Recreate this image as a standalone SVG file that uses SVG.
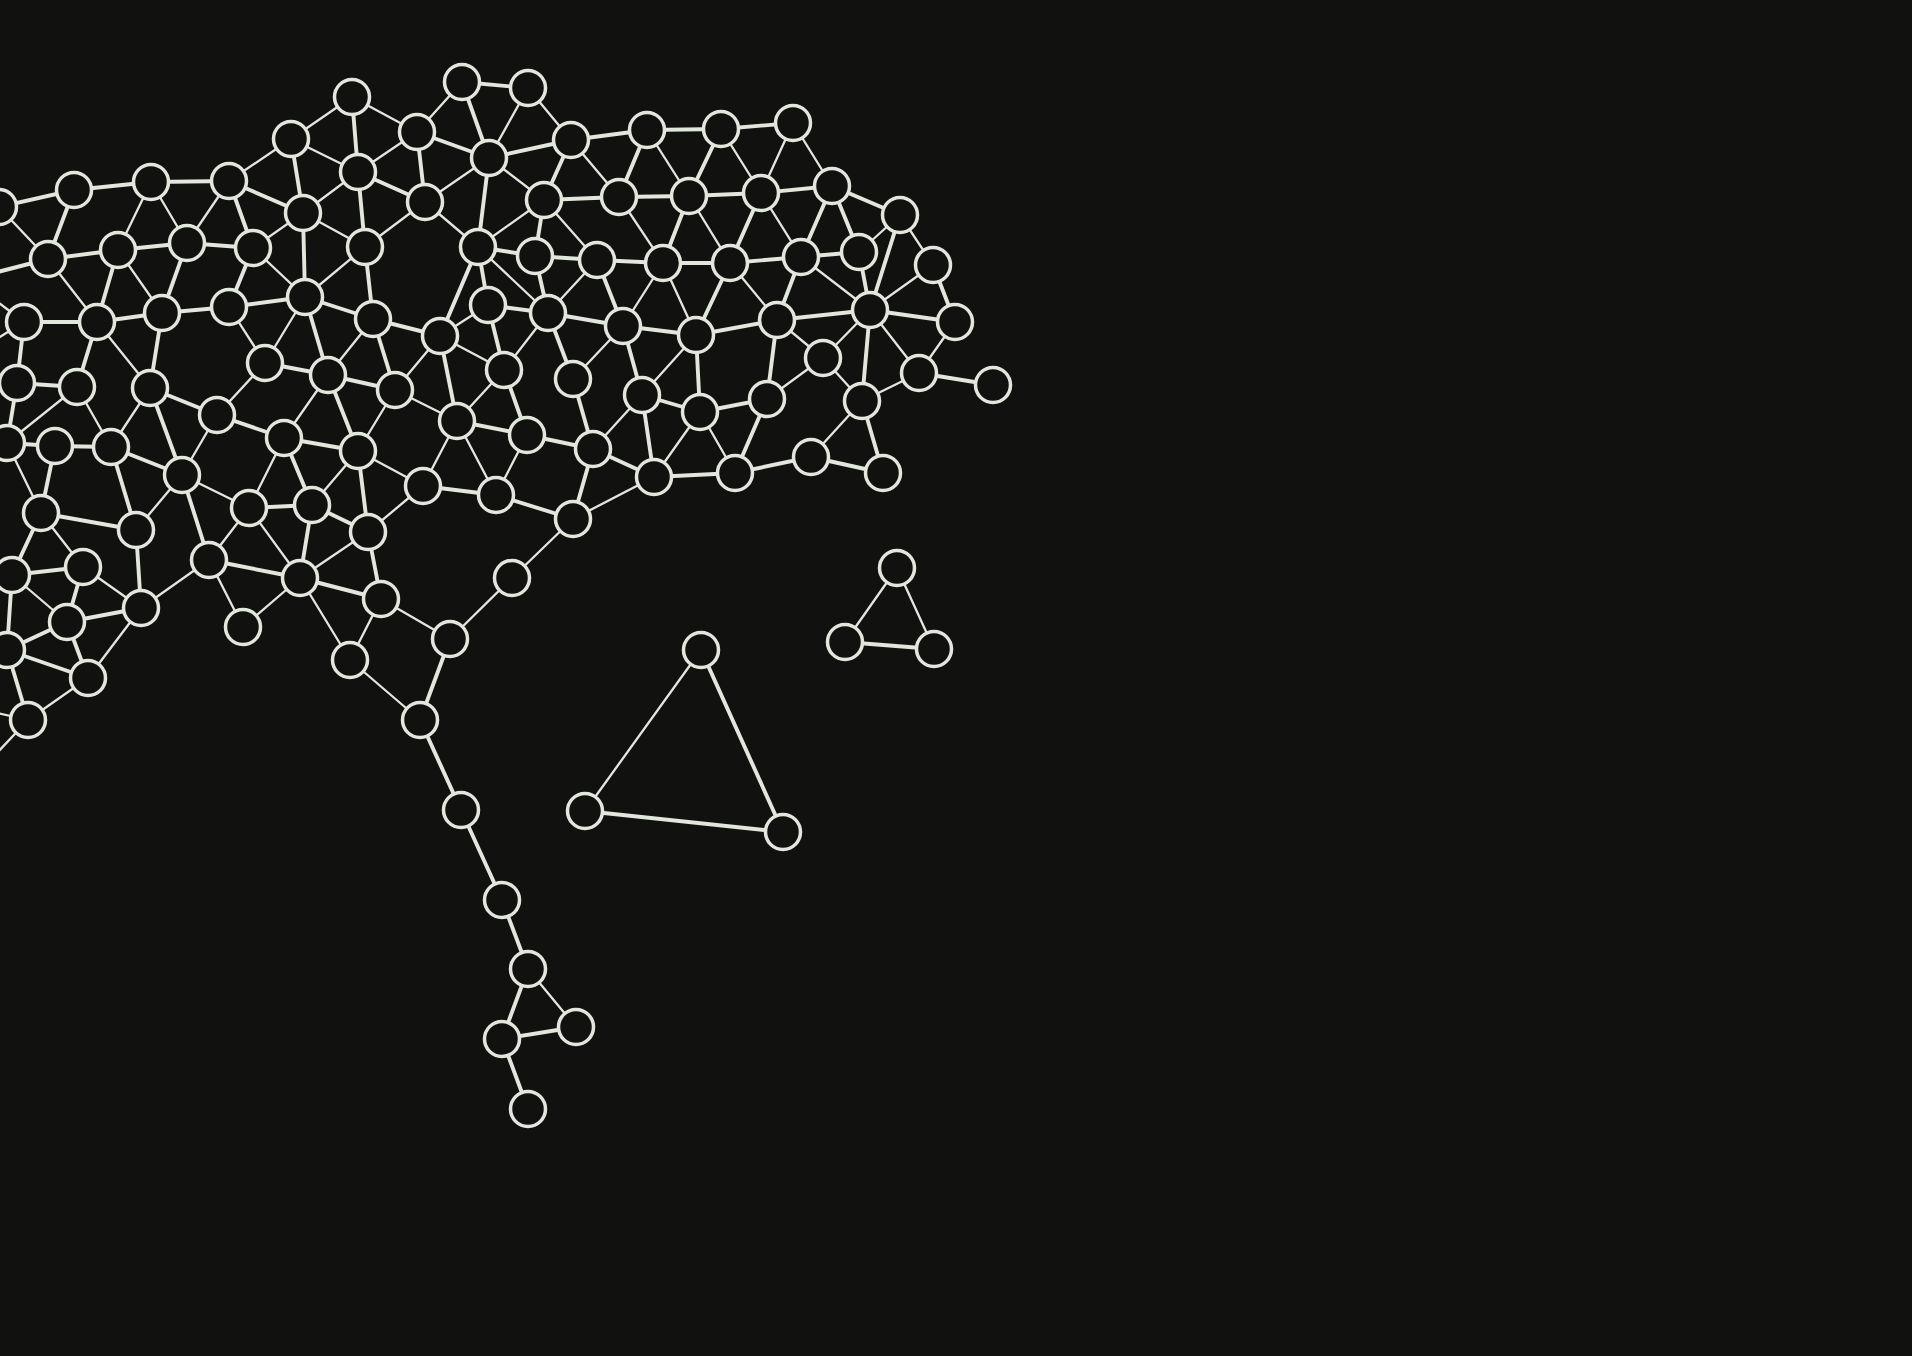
<svg xmlns="http://www.w3.org/2000/svg" width="1912" height="1356" viewBox="0 0 1912 1356">
<style>
.bg{fill:#111210}
#connectors line{stroke:#e2e6dc;stroke-linecap:round}
#connectors .t{stroke-width:3.9}
#connectors .n{stroke-width:2.3}
.node circle{fill:#111210;stroke:#e2e6dc;stroke-width:3.5}
</style>
<rect class="bg" x="0" y="0" width="1912" height="1356"/>
<g id="connectors">
<line class="t" x1="-1" y1="207" x2="74" y2="190"/>
<line class="t" x1="74" y1="190" x2="151" y2="182"/>
<line class="t" x1="151" y1="182" x2="229" y2="181"/>
<line class="n" x1="229" y1="181" x2="291" y2="139"/>
<line class="n" x1="291" y1="139" x2="352" y2="97"/>
<line class="t" x1="352" y1="97" x2="358" y2="172"/>
<line class="n" x1="291" y1="139" x2="358" y2="172"/>
<line class="t" x1="291" y1="139" x2="303" y2="213"/>
<line class="t" x1="229" y1="181" x2="303" y2="213"/>
<line class="n" x1="358" y1="172" x2="303" y2="213"/>
<line class="n" x1="-1" y1="207" x2="48" y2="259"/>
<line class="t" x1="74" y1="190" x2="48" y2="259"/>
<line class="n" x1="151" y1="182" x2="118" y2="250"/>
<line class="n" x1="151" y1="182" x2="187" y2="243"/>
<line class="n" x1="229" y1="181" x2="187" y2="243"/>
<line class="t" x1="229" y1="181" x2="253" y2="248"/>
<line class="t" x1="48" y1="259" x2="118" y2="250"/>
<line class="t" x1="118" y1="250" x2="187" y2="243"/>
<line class="t" x1="187" y1="243" x2="253" y2="248"/>
<line class="n" x1="303" y1="213" x2="253" y2="248"/>
<line class="t" x1="303" y1="213" x2="305" y2="297"/>
<line class="n" x1="303" y1="213" x2="365" y2="247"/>
<line class="n" x1="253" y1="248" x2="305" y2="297"/>
<line class="t" x1="253" y1="248" x2="229" y2="307"/>
<line class="t" x1="187" y1="243" x2="162" y2="313"/>
<line class="t" x1="118" y1="250" x2="97" y2="322"/>
<line class="n" x1="118" y1="250" x2="162" y2="313"/>
<line class="n" x1="48" y1="259" x2="97" y2="322"/>
<line class="t" x1="48" y1="259" x2="-80" y2="292"/>
<line class="t" x1="24" y1="322" x2="97" y2="322"/>
<line class="t" x1="97" y1="322" x2="162" y2="313"/>
<line class="t" x1="162" y1="313" x2="229" y2="307"/>
<line class="t" x1="229" y1="307" x2="305" y2="297"/>
<line class="n" x1="305" y1="297" x2="365" y2="247"/>
<line class="t" x1="305" y1="297" x2="373" y2="319"/>
<line class="n" x1="305" y1="297" x2="265" y2="363"/>
<line class="t" x1="305" y1="297" x2="328" y2="375"/>
<line class="n" x1="229" y1="307" x2="265" y2="363"/>
<line class="n" x1="328" y1="375" x2="373" y2="319"/>
<line class="t" x1="265" y1="363" x2="328" y2="375"/>
<line class="t" x1="162" y1="313" x2="150" y2="388"/>
<line class="t" x1="97" y1="322" x2="77" y2="387"/>
<line class="n" x1="97" y1="322" x2="150" y2="388"/>
<line class="t" x1="24" y1="322" x2="17" y2="383"/>
<line class="n" x1="24" y1="322" x2="-60" y2="258"/>
<line class="n" x1="24" y1="322" x2="-60" y2="374"/>
<line class="n" x1="352" y1="97" x2="417" y2="132"/>
<line class="n" x1="462" y1="82" x2="417" y2="132"/>
<line class="t" x1="462" y1="82" x2="528" y2="88"/>
<line class="t" x1="462" y1="82" x2="489" y2="158"/>
<line class="n" x1="528" y1="88" x2="489" y2="158"/>
<line class="n" x1="528" y1="88" x2="571" y2="140"/>
<line class="t" x1="417" y1="132" x2="489" y2="158"/>
<line class="n" x1="417" y1="132" x2="358" y2="172"/>
<line class="t" x1="417" y1="132" x2="425" y2="202"/>
<line class="t" x1="489" y1="158" x2="571" y2="140"/>
<line class="n" x1="489" y1="158" x2="425" y2="202"/>
<line class="t" x1="489" y1="158" x2="478" y2="247"/>
<line class="n" x1="489" y1="158" x2="544" y2="200"/>
<line class="t" x1="571" y1="140" x2="647" y2="130"/>
<line class="t" x1="571" y1="140" x2="544" y2="200"/>
<line class="n" x1="571" y1="140" x2="619" y2="197"/>
<line class="t" x1="647" y1="130" x2="721" y2="129"/>
<line class="t" x1="647" y1="130" x2="619" y2="197"/>
<line class="n" x1="647" y1="130" x2="689" y2="196"/>
<line class="t" x1="358" y1="172" x2="425" y2="202"/>
<line class="t" x1="358" y1="172" x2="365" y2="247"/>
<line class="n" x1="425" y1="202" x2="365" y2="247"/>
<line class="n" x1="425" y1="202" x2="478" y2="247"/>
<line class="t" x1="544" y1="200" x2="619" y2="197"/>
<line class="t" x1="619" y1="197" x2="689" y2="196"/>
<line class="n" x1="544" y1="200" x2="478" y2="247"/>
<line class="t" x1="544" y1="200" x2="535" y2="256"/>
<line class="n" x1="544" y1="200" x2="597" y2="260"/>
<line class="n" x1="619" y1="197" x2="663" y2="263"/>
<line class="t" x1="689" y1="196" x2="663" y2="263"/>
<line class="t" x1="478" y1="247" x2="535" y2="256"/>
<line class="t" x1="535" y1="256" x2="597" y2="260"/>
<line class="t" x1="597" y1="260" x2="663" y2="263"/>
<line class="t" x1="663" y1="263" x2="730" y2="263"/>
<line class="t" x1="365" y1="247" x2="373" y2="319"/>
<line class="t" x1="478" y1="247" x2="440" y2="336"/>
<line class="t" x1="478" y1="247" x2="488" y2="305"/>
<line class="n" x1="478" y1="247" x2="548" y2="313"/>
<line class="t" x1="535" y1="256" x2="548" y2="313"/>
<line class="n" x1="597" y1="260" x2="548" y2="313"/>
<line class="t" x1="597" y1="260" x2="623" y2="326"/>
<line class="n" x1="663" y1="263" x2="623" y2="326"/>
<line class="n" x1="663" y1="263" x2="696" y2="335"/>
<line class="t" x1="623" y1="326" x2="696" y2="335"/>
<line class="t" x1="548" y1="313" x2="623" y2="326"/>
<line class="t" x1="488" y1="305" x2="548" y2="313"/>
<line class="n" x1="440" y1="336" x2="488" y2="305"/>
<line class="t" x1="373" y1="319" x2="440" y2="336"/>
<line class="t" x1="373" y1="319" x2="395" y2="390"/>
<line class="n" x1="440" y1="336" x2="395" y2="390"/>
<line class="n" x1="440" y1="336" x2="504" y2="370"/>
<line class="t" x1="440" y1="336" x2="457" y2="421"/>
<line class="t" x1="488" y1="305" x2="504" y2="370"/>
<line class="n" x1="548" y1="313" x2="504" y2="370"/>
<line class="t" x1="548" y1="313" x2="573" y2="379"/>
<line class="n" x1="623" y1="326" x2="573" y2="379"/>
<line class="t" x1="623" y1="326" x2="642" y2="395"/>
<line class="n" x1="696" y1="335" x2="642" y2="395"/>
<line class="t" x1="721" y1="129" x2="793" y2="123"/>
<line class="t" x1="721" y1="129" x2="689" y2="196"/>
<line class="n" x1="721" y1="129" x2="761" y2="193"/>
<line class="n" x1="793" y1="123" x2="761" y2="193"/>
<line class="n" x1="793" y1="123" x2="832" y2="186"/>
<line class="t" x1="689" y1="196" x2="761" y2="193"/>
<line class="t" x1="761" y1="193" x2="832" y2="186"/>
<line class="n" x1="689" y1="196" x2="730" y2="263"/>
<line class="t" x1="761" y1="193" x2="730" y2="263"/>
<line class="n" x1="761" y1="193" x2="801" y2="257"/>
<line class="t" x1="832" y1="186" x2="801" y2="257"/>
<line class="t" x1="832" y1="186" x2="900" y2="215"/>
<line class="t" x1="832" y1="186" x2="859" y2="252"/>
<line class="n" x1="900" y1="215" x2="859" y2="252"/>
<line class="t" x1="900" y1="215" x2="870" y2="310"/>
<line class="n" x1="900" y1="215" x2="933" y2="265"/>
<line class="t" x1="730" y1="263" x2="801" y2="257"/>
<line class="t" x1="801" y1="257" x2="859" y2="252"/>
<line class="t" x1="859" y1="252" x2="870" y2="310"/>
<line class="n" x1="801" y1="257" x2="870" y2="310"/>
<line class="n" x1="933" y1="265" x2="870" y2="310"/>
<line class="t" x1="933" y1="265" x2="955" y2="322"/>
<line class="t" x1="870" y1="310" x2="955" y2="322"/>
<line class="t" x1="730" y1="263" x2="696" y2="335"/>
<line class="n" x1="730" y1="263" x2="777" y2="320"/>
<line class="t" x1="801" y1="257" x2="777" y2="320"/>
<line class="t" x1="696" y1="335" x2="777" y2="320"/>
<line class="t" x1="777" y1="320" x2="870" y2="310"/>
<line class="n" x1="777" y1="320" x2="823" y2="358"/>
<line class="n" x1="870" y1="310" x2="823" y2="358"/>
<line class="t" x1="870" y1="310" x2="862" y2="401"/>
<line class="n" x1="870" y1="310" x2="919" y2="373"/>
<line class="n" x1="955" y1="322" x2="919" y2="373"/>
<line class="t" x1="919" y1="373" x2="993" y2="385"/>
<line class="t" x1="777" y1="320" x2="767" y2="399"/>
<line class="n" x1="823" y1="358" x2="767" y2="399"/>
<line class="n" x1="823" y1="358" x2="862" y2="401"/>
<line class="n" x1="862" y1="401" x2="919" y2="373"/>
<line class="t" x1="696" y1="335" x2="700" y2="412"/>
<line class="t" x1="700" y1="412" x2="767" y2="399"/>
<line class="n" x1="700" y1="412" x2="735" y2="473"/>
<line class="t" x1="767" y1="399" x2="735" y2="473"/>
<line class="t" x1="735" y1="473" x2="811" y2="457"/>
<line class="n" x1="811" y1="457" x2="862" y2="401"/>
<line class="t" x1="862" y1="401" x2="883" y2="473"/>
<line class="t" x1="811" y1="457" x2="883" y2="473"/>
<line class="t" x1="654" y1="477" x2="735" y2="473"/>
<line class="n" x1="700" y1="412" x2="654" y2="477"/>
<line class="n" x1="897" y1="568" x2="845" y2="642"/>
<line class="n" x1="897" y1="568" x2="934" y2="649"/>
<line class="t" x1="845" y1="642" x2="934" y2="649"/>
<line class="n" x1="701" y1="650" x2="585" y2="811"/>
<line class="t" x1="701" y1="650" x2="783" y2="832"/>
<line class="t" x1="585" y1="811" x2="783" y2="832"/>
<line class="t" x1="17" y1="383" x2="77" y2="387"/>
<line class="t" x1="17" y1="383" x2="7" y2="443"/>
<line class="n" x1="77" y1="387" x2="7" y2="443"/>
<line class="n" x1="77" y1="387" x2="111" y2="447"/>
<line class="n" x1="150" y1="388" x2="111" y2="447"/>
<line class="t" x1="150" y1="388" x2="217" y2="415"/>
<line class="t" x1="150" y1="388" x2="182" y2="475"/>
<line class="n" x1="265" y1="363" x2="217" y2="415"/>
<line class="n" x1="328" y1="375" x2="284" y2="438"/>
<line class="t" x1="328" y1="375" x2="358" y2="451"/>
<line class="t" x1="328" y1="375" x2="395" y2="390"/>
<line class="n" x1="217" y1="415" x2="182" y2="475"/>
<line class="t" x1="217" y1="415" x2="284" y2="438"/>
<line class="t" x1="7" y1="443" x2="55" y2="446"/>
<line class="t" x1="55" y1="446" x2="111" y2="447"/>
<line class="n" x1="7" y1="443" x2="41" y2="513"/>
<line class="t" x1="55" y1="446" x2="41" y2="513"/>
<line class="t" x1="111" y1="447" x2="182" y2="475"/>
<line class="t" x1="111" y1="447" x2="136" y2="530"/>
<line class="n" x1="182" y1="475" x2="136" y2="530"/>
<line class="n" x1="182" y1="475" x2="249" y2="508"/>
<line class="t" x1="182" y1="475" x2="209" y2="560"/>
<line class="n" x1="284" y1="438" x2="249" y2="508"/>
<line class="t" x1="284" y1="438" x2="312" y2="505"/>
<line class="t" x1="284" y1="438" x2="358" y2="451"/>
<line class="n" x1="358" y1="451" x2="312" y2="505"/>
<line class="t" x1="249" y1="508" x2="312" y2="505"/>
<line class="n" x1="249" y1="508" x2="209" y2="560"/>
<line class="n" x1="249" y1="508" x2="300" y2="578"/>
<line class="t" x1="312" y1="505" x2="300" y2="578"/>
<line class="t" x1="312" y1="505" x2="368" y2="532"/>
<line class="n" x1="368" y1="532" x2="300" y2="578"/>
<line class="t" x1="300" y1="578" x2="381" y2="599"/>
<line class="t" x1="41" y1="513" x2="136" y2="530"/>
<line class="t" x1="41" y1="513" x2="12" y2="575"/>
<line class="n" x1="41" y1="513" x2="83" y2="567"/>
<line class="t" x1="136" y1="530" x2="141" y2="608"/>
<line class="t" x1="12" y1="575" x2="83" y2="567"/>
<line class="n" x1="12" y1="575" x2="67" y2="622"/>
<line class="t" x1="12" y1="575" x2="7" y2="650"/>
<line class="t" x1="83" y1="567" x2="67" y2="622"/>
<line class="n" x1="83" y1="567" x2="141" y2="608"/>
<line class="t" x1="67" y1="622" x2="141" y2="608"/>
<line class="t" x1="67" y1="622" x2="7" y2="650"/>
<line class="t" x1="67" y1="622" x2="88" y2="678"/>
<line class="t" x1="7" y1="650" x2="88" y2="678"/>
<line class="n" x1="141" y1="608" x2="88" y2="678"/>
<line class="n" x1="141" y1="608" x2="209" y2="560"/>
<line class="t" x1="209" y1="560" x2="300" y2="578"/>
<line class="n" x1="209" y1="560" x2="243" y2="627"/>
<line class="n" x1="300" y1="578" x2="243" y2="627"/>
<line class="n" x1="300" y1="578" x2="350" y2="660"/>
<line class="t" x1="7" y1="650" x2="28" y2="720"/>
<line class="n" x1="88" y1="678" x2="28" y2="720"/>
<line class="n" x1="28" y1="720" x2="-50" y2="803"/>
<line class="n" x1="28" y1="720" x2="-60" y2="700"/>
<line class="n" x1="395" y1="390" x2="457" y2="421"/>
<line class="n" x1="395" y1="390" x2="358" y2="451"/>
<line class="n" x1="504" y1="370" x2="457" y2="421"/>
<line class="t" x1="504" y1="370" x2="527" y2="435"/>
<line class="t" x1="457" y1="421" x2="527" y2="435"/>
<line class="t" x1="573" y1="379" x2="593" y2="449"/>
<line class="n" x1="642" y1="395" x2="593" y2="449"/>
<line class="t" x1="642" y1="395" x2="700" y2="412"/>
<line class="t" x1="642" y1="395" x2="654" y2="477"/>
<line class="t" x1="527" y1="435" x2="593" y2="449"/>
<line class="t" x1="593" y1="449" x2="654" y2="477"/>
<line class="n" x1="358" y1="451" x2="423" y2="486"/>
<line class="n" x1="457" y1="421" x2="423" y2="486"/>
<line class="n" x1="457" y1="421" x2="496" y2="495"/>
<line class="n" x1="527" y1="435" x2="496" y2="495"/>
<line class="t" x1="423" y1="486" x2="496" y2="495"/>
<line class="t" x1="496" y1="495" x2="573" y2="519"/>
<line class="t" x1="593" y1="449" x2="573" y2="519"/>
<line class="n" x1="654" y1="477" x2="573" y2="519"/>
<line class="n" x1="573" y1="519" x2="512" y2="578"/>
<line class="n" x1="512" y1="578" x2="450" y2="639"/>
<line class="t" x1="358" y1="451" x2="368" y2="532"/>
<line class="n" x1="423" y1="486" x2="368" y2="532"/>
<line class="t" x1="368" y1="532" x2="381" y2="599"/>
<line class="n" x1="381" y1="599" x2="450" y2="639"/>
<line class="n" x1="381" y1="599" x2="350" y2="660"/>
<line class="t" x1="450" y1="639" x2="420" y2="720"/>
<line class="n" x1="350" y1="660" x2="420" y2="720"/>
<line class="t" x1="420" y1="720" x2="461" y2="810"/>
<line class="t" x1="461" y1="810" x2="502" y2="900"/>
<line class="t" x1="502" y1="900" x2="528" y2="969"/>
<line class="t" x1="528" y1="969" x2="502" y2="1039"/>
<line class="n" x1="528" y1="969" x2="576" y2="1027"/>
<line class="t" x1="502" y1="1039" x2="576" y2="1027"/>
<line class="t" x1="502" y1="1039" x2="528" y2="1109"/>
</g>
<g id="n1" class="node"><circle cx="352" cy="97" r="17.5"/></g>
<g id="n2" class="node"><circle cx="462" cy="82" r="17.5"/></g>
<g id="n3" class="node"><circle cx="528" cy="88" r="17.5"/></g>
<g id="n4" class="node"><circle cx="291" cy="139" r="17.5"/></g>
<g id="n5" class="node"><circle cx="417" cy="132" r="17.5"/></g>
<g id="n6" class="node"><circle cx="489" cy="158" r="17.5"/></g>
<g id="n7" class="node"><circle cx="571" cy="140" r="17.5"/></g>
<g id="n8" class="node"><circle cx="647" cy="130" r="17.5"/></g>
<g id="n9" class="node"><circle cx="721" cy="129" r="17.5"/></g>
<g id="n10" class="node"><circle cx="793" cy="123" r="17.5"/></g>
<g id="n11" class="node"><circle cx="358" cy="172" r="17.5"/></g>
<g id="n12" class="node"><circle cx="425" cy="202" r="17.5"/></g>
<g id="n13" class="node"><circle cx="544" cy="200" r="17.5"/></g>
<g id="n14" class="node"><circle cx="619" cy="197" r="17.5"/></g>
<g id="n15" class="node"><circle cx="689" cy="196" r="17.5"/></g>
<g id="n16" class="node"><circle cx="761" cy="193" r="17.5"/></g>
<g id="n17" class="node"><circle cx="832" cy="186" r="17.5"/></g>
<g id="n18" class="node"><circle cx="900" cy="215" r="17.5"/></g>
<g id="n19" class="node"><circle cx="-1" cy="207" r="17.5"/></g>
<g id="n20" class="node"><circle cx="74" cy="190" r="17.5"/></g>
<g id="n21" class="node"><circle cx="151" cy="182" r="17.5"/></g>
<g id="n22" class="node"><circle cx="229" cy="181" r="17.5"/></g>
<g id="n23" class="node"><circle cx="303" cy="213" r="17.5"/></g>
<g id="n24" class="node"><circle cx="48" cy="259" r="17.5"/></g>
<g id="n25" class="node"><circle cx="118" cy="250" r="17.5"/></g>
<g id="n26" class="node"><circle cx="187" cy="243" r="17.5"/></g>
<g id="n27" class="node"><circle cx="253" cy="248" r="17.5"/></g>
<g id="n28" class="node"><circle cx="365" cy="247" r="17.5"/></g>
<g id="n29" class="node"><circle cx="478" cy="247" r="17.5"/></g>
<g id="n30" class="node"><circle cx="535" cy="256" r="17.5"/></g>
<g id="n31" class="node"><circle cx="597" cy="260" r="17.5"/></g>
<g id="n32" class="node"><circle cx="663" cy="263" r="17.5"/></g>
<g id="n33" class="node"><circle cx="730" cy="263" r="17.5"/></g>
<g id="n34" class="node"><circle cx="801" cy="257" r="17.5"/></g>
<g id="n35" class="node"><circle cx="859" cy="252" r="17.5"/></g>
<g id="n36" class="node"><circle cx="933" cy="265" r="17.5"/></g>
<g id="n37" class="node"><circle cx="24" cy="322" r="17.5"/></g>
<g id="n38" class="node"><circle cx="97" cy="322" r="17.5"/></g>
<g id="n39" class="node"><circle cx="162" cy="313" r="17.5"/></g>
<g id="n40" class="node"><circle cx="229" cy="307" r="17.5"/></g>
<g id="n41" class="node"><circle cx="305" cy="297" r="17.5"/></g>
<g id="n42" class="node"><circle cx="373" cy="319" r="17.5"/></g>
<g id="n43" class="node"><circle cx="440" cy="336" r="17.5"/></g>
<g id="n44" class="node"><circle cx="488" cy="305" r="17.5"/></g>
<g id="n45" class="node"><circle cx="548" cy="313" r="17.5"/></g>
<g id="n46" class="node"><circle cx="623" cy="326" r="17.5"/></g>
<g id="n47" class="node"><circle cx="696" cy="335" r="17.5"/></g>
<g id="n48" class="node"><circle cx="777" cy="320" r="17.5"/></g>
<g id="n49" class="node"><circle cx="870" cy="310" r="17.5"/></g>
<g id="n50" class="node"><circle cx="955" cy="322" r="17.5"/></g>
<g id="n51" class="node"><circle cx="17" cy="383" r="17.5"/></g>
<g id="n52" class="node"><circle cx="77" cy="387" r="17.5"/></g>
<g id="n53" class="node"><circle cx="150" cy="388" r="17.5"/></g>
<g id="n54" class="node"><circle cx="265" cy="363" r="17.5"/></g>
<g id="n55" class="node"><circle cx="328" cy="375" r="17.5"/></g>
<g id="n56" class="node"><circle cx="395" cy="390" r="17.5"/></g>
<g id="n57" class="node"><circle cx="504" cy="370" r="17.5"/></g>
<g id="n58" class="node"><circle cx="573" cy="379" r="17.5"/></g>
<g id="n59" class="node"><circle cx="642" cy="395" r="17.5"/></g>
<g id="n60" class="node"><circle cx="823" cy="358" r="17.5"/></g>
<g id="n61" class="node"><circle cx="919" cy="373" r="17.5"/></g>
<g id="n62" class="node"><circle cx="993" cy="385" r="17.5"/></g>
<g id="n63" class="node"><circle cx="7" cy="443" r="17.5"/></g>
<g id="n64" class="node"><circle cx="55" cy="446" r="17.5"/></g>
<g id="n65" class="node"><circle cx="111" cy="447" r="17.5"/></g>
<g id="n66" class="node"><circle cx="217" cy="415" r="17.5"/></g>
<g id="n67" class="node"><circle cx="284" cy="438" r="17.5"/></g>
<g id="n68" class="node"><circle cx="358" cy="451" r="17.5"/></g>
<g id="n69" class="node"><circle cx="457" cy="421" r="17.5"/></g>
<g id="n70" class="node"><circle cx="527" cy="435" r="17.5"/></g>
<g id="n71" class="node"><circle cx="700" cy="412" r="17.5"/></g>
<g id="n72" class="node"><circle cx="767" cy="399" r="17.5"/></g>
<g id="n73" class="node"><circle cx="862" cy="401" r="17.5"/></g>
<g id="n74" class="node"><circle cx="182" cy="475" r="17.5"/></g>
<g id="n75" class="node"><circle cx="423" cy="486" r="17.5"/></g>
<g id="n76" class="node"><circle cx="496" cy="495" r="17.5"/></g>
<g id="n77" class="node"><circle cx="593" cy="449" r="17.5"/></g>
<g id="n78" class="node"><circle cx="654" cy="477" r="17.5"/></g>
<g id="n79" class="node"><circle cx="735" cy="473" r="17.5"/></g>
<g id="n80" class="node"><circle cx="811" cy="457" r="17.5"/></g>
<g id="n81" class="node"><circle cx="883" cy="473" r="17.5"/></g>
<g id="n82" class="node"><circle cx="41" cy="513" r="17.5"/></g>
<g id="n83" class="node"><circle cx="136" cy="530" r="17.5"/></g>
<g id="n84" class="node"><circle cx="249" cy="508" r="17.5"/></g>
<g id="n85" class="node"><circle cx="312" cy="505" r="17.5"/></g>
<g id="n86" class="node"><circle cx="368" cy="532" r="17.5"/></g>
<g id="n87" class="node"><circle cx="573" cy="519" r="17.5"/></g>
<g id="n88" class="node"><circle cx="12" cy="575" r="17.5"/></g>
<g id="n89" class="node"><circle cx="83" cy="567" r="17.5"/></g>
<g id="n90" class="node"><circle cx="209" cy="560" r="17.5"/></g>
<g id="n91" class="node"><circle cx="300" cy="578" r="17.5"/></g>
<g id="n92" class="node"><circle cx="67" cy="622" r="17.5"/></g>
<g id="n93" class="node"><circle cx="141" cy="608" r="17.5"/></g>
<g id="n94" class="node"><circle cx="381" cy="599" r="17.5"/></g>
<g id="n95" class="node"><circle cx="512" cy="578" r="17.5"/></g>
<g id="n96" class="node"><circle cx="243" cy="627" r="17.5"/></g>
<g id="n97" class="node"><circle cx="7" cy="650" r="17.5"/></g>
<g id="n98" class="node"><circle cx="88" cy="678" r="17.5"/></g>
<g id="n99" class="node"><circle cx="350" cy="660" r="17.5"/></g>
<g id="n100" class="node"><circle cx="450" cy="639" r="17.5"/></g>
<g id="n101" class="node"><circle cx="28" cy="720" r="17.5"/></g>
<g id="n102" class="node"><circle cx="420" cy="720" r="17.5"/></g>
<g id="n103" class="node"><circle cx="461" cy="810" r="17.5"/></g>
<g id="n104" class="node"><circle cx="502" cy="900" r="17.5"/></g>
<g id="n105" class="node"><circle cx="528" cy="969" r="17.5"/></g>
<g id="n106" class="node"><circle cx="502" cy="1039" r="17.5"/></g>
<g id="n107" class="node"><circle cx="576" cy="1027" r="17.5"/></g>
<g id="n108" class="node"><circle cx="528" cy="1109" r="17.5"/></g>
<g id="t1" class="node"><circle cx="701" cy="650" r="17.5"/></g>
<g id="t2" class="node"><circle cx="585" cy="811" r="17.5"/></g>
<g id="t3" class="node"><circle cx="783" cy="832" r="17.5"/></g>
<g id="s1" class="node"><circle cx="897" cy="568" r="17.5"/></g>
<g id="s2" class="node"><circle cx="845" cy="642" r="17.5"/></g>
<g id="s3" class="node"><circle cx="934" cy="649" r="17.5"/></g>
</svg>
